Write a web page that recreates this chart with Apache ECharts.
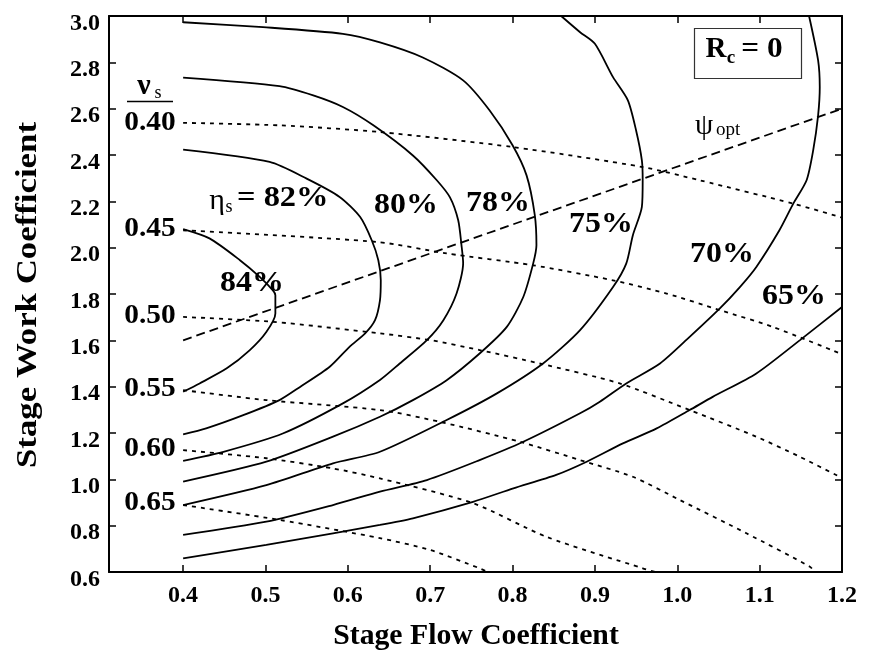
<!DOCTYPE html>
<html>
<head>
<meta charset="utf-8">
<script src="https://cdn.jsdelivr.net/npm/echarts@6/dist/echarts.min.js"></script>
<style>
  html, body { margin: 0; padding: 0; background: #fff; }
  #chart { width: 871px; height: 651px; }
</style>
</head>
<body>
<div id="chart"></div>
<script>
// Axis ticks
const xTicks = [0.4, 0.5, 0.6, 0.7, 0.8, 0.9, 1.0, 1.1, 1.2];
const yTicks = [0.6, 0.8, 1.0, 1.2, 1.4, 1.6, 1.8, 2.0, 2.2, 2.4, 2.6, 2.8, 3.0];

// Stage efficiency contours (flow coefficient, work coefficient)
const eta84 = [[0.40,2.08],[0.432,2.04],[0.469,1.946],[0.493,1.874],[0.509,1.816],[0.512,1.795],
  [0.512,1.716],[0.501,1.636],[0.481,1.558],[0.453,1.479],[0.42,1.414],[0.40,1.378]];
const eta82 = [[0.40,2.423],[0.505,2.37],[0.55,2.298],[0.59,2.219],[0.615,2.132],[0.629,2.032],
  [0.637,1.946],[0.640,1.859],[0.639,1.773],[0.633,1.687],[0.621,1.63],[0.602,1.572],
  [0.578,1.486],[0.542,1.399],[0.517,1.342],[0.473,1.277],[0.428,1.22],[0.40,1.194]];
const eta80 = [[0.40,2.734],[0.517,2.697],[0.558,2.657],[0.594,2.607],[0.631,2.528],[0.679,2.398],
  [0.708,2.291],[0.724,2.217],[0.734,2.118],[0.738,2.01],[0.740,1.933],[0.732,1.802],
  [0.716,1.687],[0.696,1.601],[0.663,1.5],[0.639,1.429],[0.594,1.328],[0.521,1.198],
  [0.449,1.119],[0.40,1.08]];
const eta78 = [[0.40,2.973],[0.497,2.952],[0.594,2.923],[0.639,2.886],[0.691,2.821],[0.740,2.722],
  [0.772,2.593],[0.800,2.442],[0.817,2.312],[0.827,2.14],[0.829,2.01],[0.825,1.931],
  [0.813,1.787],[0.793,1.658],[0.760,1.543],[0.720,1.428],[0.679,1.342],[0.639,1.27],
  [0.582,1.184],[0.501,1.076],[0.40,0.99]];
const eta75 = [[0.859,3.0],[0.882,2.93],[0.900,2.88],[0.922,2.736],[0.940,2.636],[0.950,2.506],
  [0.957,2.377],[0.958,2.291],[0.957,2.176],[0.946,2.053],[0.938,1.931],[0.922,1.83],
  [0.882,1.644],[0.837,1.5],[0.781,1.371],[0.720,1.256],[0.639,1.119],[0.582,1.069],
  [0.501,0.975],[0.40,0.889]];
const eta70 = [[1.160,3.0],[1.171,2.808],[1.173,2.693],[1.171,2.571],[1.165,2.42],[1.157,2.291],
  [1.141,2.191],[1.124,2.075],[1.096,1.917],[1.076,1.83],[1.052,1.739],[1.015,1.615],
  [0.979,1.5],[0.938,1.414],[0.906,1.335],[0.882,1.285],[0.813,1.162],[0.760,1.083],
  [0.696,0.997],[0.639,0.947],[0.582,0.889],[0.501,0.817],[0.40,0.76]];
const eta65 = [[1.20,1.744],[1.149,1.601],[1.096,1.457],[1.043,1.356],[1.015,1.299],[0.975,1.22],
  [0.934,1.155],[0.890,1.076],[0.853,1.019],[0.801,0.961],[0.752,0.903],[0.679,0.832],
  [0.639,0.803],[0.582,0.767],[0.501,0.717],[0.40,0.659]];

// Speed-ratio lines (nu_s)
const nu40 = [[0.40,2.539],[0.517,2.528],[0.639,2.499],[0.801,2.434],[0.958,2.348],[1.027,2.291],
  [1.141,2.19],[1.20,2.13]];
const nu45 = [[0.40,2.075],[0.635,2.025],[0.720,1.975],[0.825,1.924],[0.922,1.859],[0.987,1.802],
  [1.052,1.73],[1.116,1.658],[1.20,1.54]];
const nu50 = [[0.40,1.701],[0.509,1.68],[0.639,1.63],[0.700,1.601],[0.760,1.558],[0.833,1.5],
  [0.930,1.414],[1.015,1.299],[1.096,1.184],[1.149,1.097],[1.20,1.006]];
const nu55 = [[0.40,1.385],[0.501,1.342],[0.639,1.299],[0.712,1.248],[0.809,1.162],[0.882,1.083],
  [0.946,1.011],[1.003,0.911],[1.084,0.767],[1.161,0.623],[1.167,0.60]];
const nu60 = [[0.40,1.126],[0.501,1.091],[0.582,1.047],[0.639,1.004],[0.752,0.897],[0.841,0.752],
  [0.958,0.616],[0.973,0.60]];
const nu65 = [[0.40,0.889],[0.517,0.825],[0.639,0.746],[0.700,0.695],[0.760,0.616],[0.770,0.60]];

// Optimum work coefficient line
const psiOpt = [[0.40,1.60],[1.20,2.60]];

const etaSets = [eta84, eta82, eta80, eta78, eta75, eta70, eta65];
const etaNames = ['84%', '82%', '80%', '78%', '75%', '70%', '65%'];
const nuSets = [nu40, nu45, nu50, nu55, nu60, nu65];
const nuNames = ['0.40', '0.45', '0.50', '0.55', '0.60', '0.65'];

const SERIF = '"Liberation Serif", "Times New Roman", serif';

const series = [];
etaSets.forEach((d, i) => series.push({
  name: 'eta ' + etaNames[i], type: 'line', data: d, symbol: 'none', smooth: 0.25,
  lineStyle: { color: '#000', width: 1.8, type: 'solid' }, z: 3
}));
nuSets.forEach((d, i) => series.push({
  name: 'nu ' + nuNames[i], type: 'line', data: d, symbol: 'none', smooth: 0.25,
  lineStyle: { color: '#000', width: 1.8, type: [4, 5] }, z: 2
}));
series.push({
  name: 'psi opt', type: 'line', data: psiOpt, symbol: 'none',
  lineStyle: { color: '#000', width: 1.8, type: [9, 5] }, z: 2
});

function txt(text, x, y, size, opts) {
  opts = opts || {};
  return {
    type: 'text', x: x, y: y, z: 10, rotation: opts.rotation || 0,
    scaleX: opts.sx || 1, scaleY: opts.sy || 1,
    style: {
      text: text, fill: '#000',
      font: (opts.weight || 'bold') + ' ' + size + 'px ' + SERIF,
      textAlign: opts.align || 'center', textVerticalAlign: 'middle'
    }
  };
}

const LBL = { sx: 1.1 };
const NUL = { sx: 1.05 };
const graphics = [
  // axis titles
  txt('Stage Flow Coefficient', 476, 637, 29, { sx: 1.025 }),
  txt('Stage Work Coefficient', 28, 295, 30, { rotation: Math.PI / 2, sx: 1.16 }),
  // nu_s label with fraction bar
  txt('ν', 144, 86, 30, { weight: 'bold' }),
  txt('s', 158, 93, 18, { weight: 'normal' }),
  { type: 'line', z: 10, shape: { x1: 127, y1: 101.5, x2: 173, y2: 101.5 }, style: { stroke: '#000', lineWidth: 1.5 } },
  txt(nuNames[0], 150, 123, 28, NUL),
  txt(nuNames[1], 150, 229, 28, NUL),
  txt(nuNames[2], 150, 316, 28, NUL),
  txt(nuNames[3], 150, 389, 28, NUL),
  txt(nuNames[4], 150, 449, 28, NUL),
  txt(nuNames[5], 150, 503, 28, NUL),
  // efficiency labels
  txt('η', 217, 201, 30, { weight: 'normal' }),
  txt('s', 229, 207, 18, { weight: 'normal' }),
  txt('= ' + etaNames[1], 237, 199, 29, { align: 'left', sx: 1.12 }),
  txt(etaNames[0], 252, 284, 29, LBL),
  txt(etaNames[2], 406, 206, 29, LBL),
  txt(etaNames[3], 498, 204, 29, LBL),
  txt(etaNames[4], 601, 225, 29, LBL),
  txt(etaNames[5], 722, 255, 29, LBL),
  txt(etaNames[6], 794, 297, 29, LBL),
  // psi_opt label
  txt('ψ', 704, 126, 29, { weight: 'normal' }),
  txt('opt', 716, 130, 19, { weight: 'normal', align: 'left' }),
  // R_c box
  { type: 'rect', z: 10, shape: { x: 694.5, y: 28.5, width: 107, height: 50 },
    style: { fill: '#fff', stroke: '#333', lineWidth: 1.2 } },
  txt('R', 716, 50, 29),
  txt('c', 731, 58, 19),
  txt('= 0', 762, 50, 29, { sx: 1.08 })
];

const tickLabelStyle = { color: '#000', fontFamily: SERIF, fontWeight: 'bold', fontSize: 24 };
const axisLine = { show: true, lineStyle: { color: '#000', width: 2 } };
const tickStyle = { color: '#000', width: 1.5 };

const option = {
  animation: false,
  backgroundColor: '#fff',
  grid: { left: 109, right: 29, top: 16, bottom: 79 },
  xAxis: [
    { type: 'value', min: 0.31, max: 1.2, position: 'bottom', axisLine: axisLine,
      splitLine: { show: false },
      axisTick: { inside: true, length: 7, customValues: xTicks, lineStyle: tickStyle },
      axisLabel: Object.assign({ customValues: xTicks, margin: 12, formatter: v => v.toFixed(1) }, tickLabelStyle) },
    { type: 'value', min: 0.31, max: 1.2, position: 'top', axisLine: axisLine,
      splitLine: { show: false },
      axisTick: { inside: true, length: 7, customValues: xTicks, lineStyle: tickStyle },
      axisLabel: { show: false } }
  ],
  yAxis: [
    { type: 'value', min: 0.6, max: 3.0, position: 'left', axisLine: axisLine,
      splitLine: { show: false },
      axisTick: { inside: true, length: 7, customValues: yTicks, lineStyle: tickStyle },
      axisLabel: Object.assign({ customValues: yTicks, margin: 9, verticalAlign: 'top', lineHeight: 15,
        formatter: v => v.toFixed(1) }, tickLabelStyle) },
    { type: 'value', min: 0.6, max: 3.0, position: 'right', axisLine: axisLine,
      splitLine: { show: false },
      axisTick: { inside: true, length: 7, customValues: yTicks, lineStyle: tickStyle },
      axisLabel: { show: false } }
  ],
  series: series,
  graphic: graphics
};

const chart = echarts.init(document.getElementById('chart'), null, { renderer: 'canvas' });
chart.setOption(option);
</script>
</body>
</html>
